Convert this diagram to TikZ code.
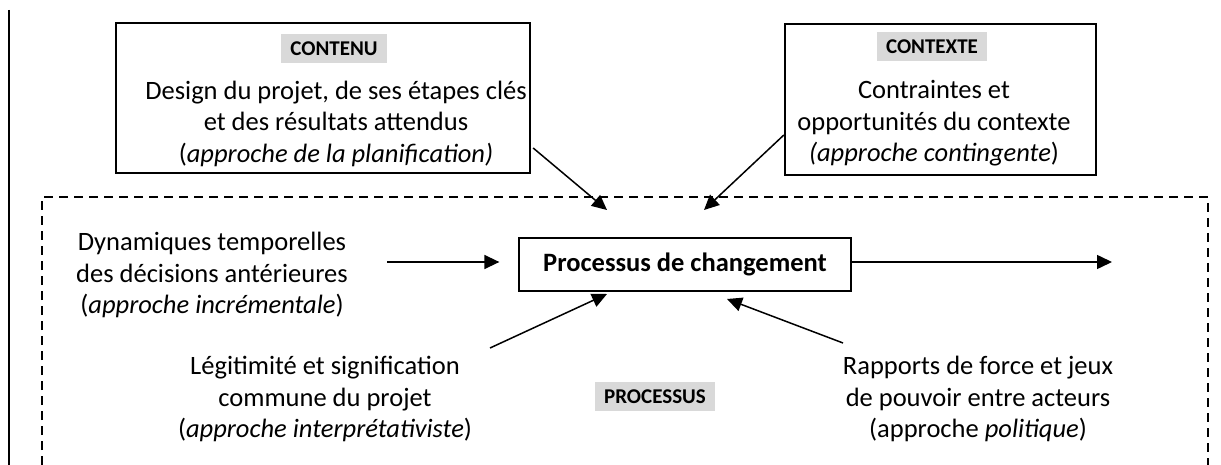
\documentclass[tikz,border=0pt]{standalone}
\usepackage{fontspec}
\setmainfont{Carlito}
\usetikzlibrary{arrows.meta,calc}
\definecolor{lblgray}{HTML}{D9D9D9}
\begin{document}
\begin{tikzpicture}[x=1pt,y=-1pt,
  txt/.style={font=\fontsize{26.5}{31.5}\selectfont, align=center, inner sep=0pt},
  lbl/.style={fill=lblgray, font=\fontsize{21}{25}\selectfont\bfseries, inner xsep=9pt, inner ysep=0pt, text height=14pt, text depth=0pt, minimum height=29pt},
  frame/.style={draw, line width=2.3pt, inner sep=0pt},
  arr/.style={line width=1.5pt, -{Triangle[length=15pt,width=14pt]}},
  dashbox/.style={line width=1.4pt, dash pattern=on 9pt off 6pt},
]
\useasboundingbox (0,0) rectangle (1221,465);

% left solid margin line
\coordinate (m1) at (9,10);
\coordinate (m2) at (9,465);
\draw[line width=2pt] (m1) -- (m2);

% dashed process frame (open at the bottom)
\coordinate (d1) at (42,465);
\coordinate (d2) at (42,197);
\coordinate (d3) at (1208,197);
\coordinate (d4) at (1208,465);
\draw[dashbox] (d1) -- (d2) -- (d3) -- (d4);

% CONTENU
\node[frame, minimum width=414pt, minimum height=150pt] (contenu) at (323,98) {};
\node[lbl] (lcontenu) at (334,48.5) {CONTENU};
\node[txt] (tcontenu) at (336,123.5) {Design du projet, de ses étapes clés\\et des résultats attendus\\(\textit{approche de la planification)}};

% CONTEXTE
\node[frame, minimum width=311pt, minimum height=151pt] (contexte) at (940.5,99.5) {};
\node[lbl] (lcontexte) at (932,47) {CONTEXTE};
\node[txt] (tcontexte) at (934,123.5) {Contraintes et\\opportunités du contexte\\\textit{(approche contingente})};

% central process box
\node[draw, line width=1.3pt, minimum width=332pt, minimum height=53pt, inner sep=0pt,
      font=\fontsize{26.5}{31.5}\selectfont\bfseries] (proc) at (685,264.5) {Processus de changement};

% side texts
\node[txt] (dyn) at (212,275) {Dynamiques temporelles\\des décisions antérieures\\(\textit{approche incrémentale})};
\node[txt] (leg) at (325,399) {Légitimité et signification\\commune du projet\\(\textit{approche interprétativiste})};
\node[txt] (rap) at (978,399) {Rapports de force et jeux\\de pouvoir entre acteurs\\(approche \textit{politique})};
\node[lbl] (lproc) at (655,396) {PROCESSUS};

% arrow ends
\coordinate (t1) at (607,210);
\coordinate (t2) at (704,210);
\coordinate (s0) at (387,262);
\coordinate (s3) at (490,348);
\coordinate (t3) at (607,294);
\coordinate (s4) at (843,343);
\coordinate (t4) at (727,299);
\coordinate (t5) at (1112,262);

\draw[arr] ($(contenu.east)+(2,50)$) -- (t1);
\draw[arr] ($(contexte.west)+(0,35.5)$) -- (t2);
\draw[arr, shorten >=19pt] (s0) -- (s0 -| proc.west);
\draw[arr] (s3) -- (t3);
\draw[arr] (s4) -- (t4);
\draw[arr] (t5 -| proc.east) -- (t5);
\end{tikzpicture}
\end{document}
